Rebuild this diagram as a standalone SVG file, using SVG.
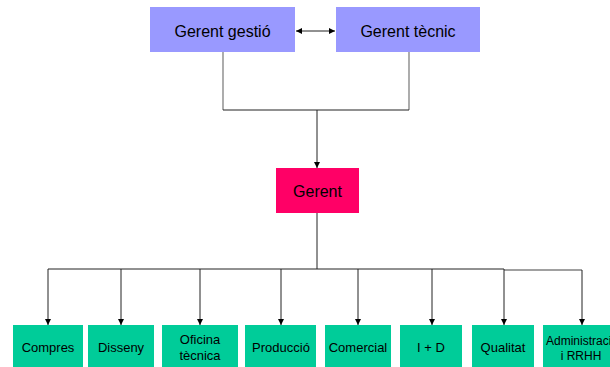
<svg xmlns="http://www.w3.org/2000/svg" width="610" height="367" viewBox="0 0 610 367">
<style>
.top{fill:#9999FF}
.boss{fill:#FF0066}
.dep{fill:#00CC99}
.t{font-family:"Liberation Sans",Arial,sans-serif;fill:#000;text-anchor:middle}
.tl{font-size:16px}
.ts{font-size:13px}
.tx{font-size:12px}
.c{fill:none;stroke:#222;stroke-width:1}
.g{fill:none;stroke:#808080;stroke-width:1.3}
</style>
<defs>
<marker id="ah" viewBox="0 0 10 10" refX="10" refY="5" markerWidth="6" markerHeight="6" markerUnits="userSpaceOnUse" orient="auto-start-reverse">
<path d="M0,0 L10,5 L0,10 Z" fill="#000"/>
</marker>
</defs>
<rect width="610" height="367" fill="#fff"/>
<g id="connectors">
<line class="c" x1="296" y1="31" x2="335" y2="31" marker-start="url(#ah)" marker-end="url(#ah)"/>
<polyline class="g" points="223,52 223,110"/>
<polyline class="g" points="409,52 409,110"/>
<line class="c" x1="223" y1="110" x2="409" y2="110"/>
<line class="c" x1="317" y1="110" x2="317" y2="168" marker-end="url(#ah)"/>
<line class="c" x1="317" y1="213" x2="317" y2="269"/>
<line class="c" x1="48" y1="269" x2="504" y2="269"/>
<line class="g" x1="504" y1="270" x2="582" y2="270"/>
<line class="c" x1="48" y1="269" x2="48" y2="325" marker-end="url(#ah)"/>
<line class="c" x1="121" y1="269" x2="121" y2="325" marker-end="url(#ah)"/>
<line class="c" x1="200" y1="269" x2="200" y2="325" marker-end="url(#ah)"/>
<line class="c" x1="281" y1="269" x2="281" y2="325" marker-end="url(#ah)"/>
<line class="c" x1="358" y1="269" x2="358" y2="325" marker-end="url(#ah)"/>
<line class="c" x1="432" y1="269" x2="432" y2="325" marker-end="url(#ah)"/>
<line class="c" x1="504" y1="269" x2="504" y2="325" marker-end="url(#ah)"/>
<line class="c" x1="582" y1="270" x2="582" y2="325" marker-end="url(#ah)"/>
</g>
<g id="gerent-gestio"><rect class="top" x="150" y="7" width="145" height="45"/><text class="t tl" x="222.5" y="37">Gerent gestió</text></g>
<g id="gerent-tecnic"><rect class="top" x="336" y="7" width="144" height="45"/><text class="t tl" x="408" y="37">Gerent tècnic</text></g>
<g id="gerent"><rect class="boss" x="276" y="168" width="83" height="45"/><text class="t tl" x="317.5" y="197">Gerent</text></g>
<g id="compres"><rect class="dep" x="13" y="325" width="70" height="45"/><text class="t ts" x="48" y="352">Compres</text></g>
<g id="disseny"><rect class="dep" x="88" y="325" width="66" height="45"/><text class="t ts" x="121" y="352">Disseny</text></g>
<g id="oficina"><rect class="dep" x="162" y="325" width="76" height="45"/><text class="t ts" x="200" y="344">Oficina</text><text class="t ts" x="200" y="360">tècnica</text></g>
<g id="produccio"><rect class="dep" x="245" y="325" width="71" height="45"/><text class="t ts" x="281" y="352">Producció</text></g>
<g id="comercial"><rect class="dep" x="325" y="325" width="66" height="45"/><text class="t ts" x="358" y="352">Comercial</text></g>
<g id="ird"><rect class="dep" x="400" y="325" width="62" height="45"/><text class="t ts" x="431" y="352">I + D</text></g>
<g id="qualitat"><rect class="dep" x="472" y="325" width="62" height="45"/><text class="t ts" x="503" y="352">Qualitat</text></g>
<g id="administracio"><rect class="dep" x="543" y="325" width="80" height="45"/><text class="t tx" x="582" y="345">Administració</text><text class="t tx" x="581" y="360">i RRHH</text></g>
</svg>
